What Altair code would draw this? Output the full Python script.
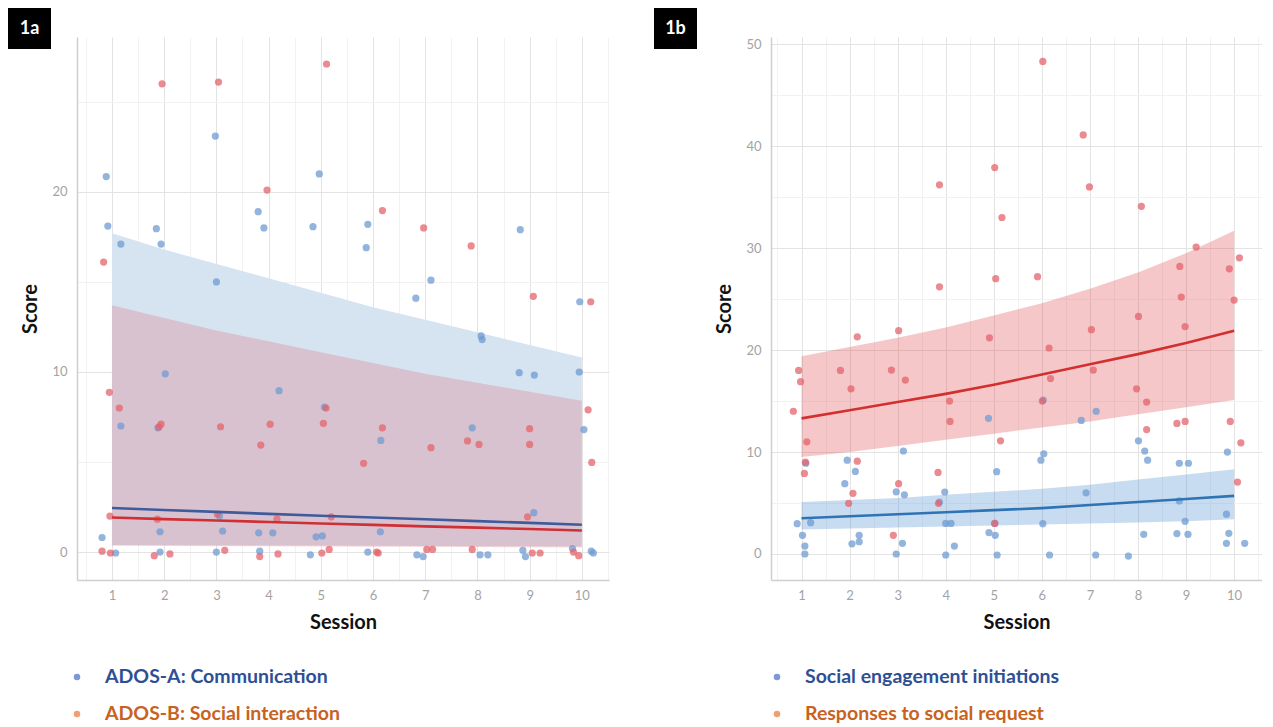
import altair as alt
import pandas as pd

FONT = "Lato"
sessions = list(range(1, 11))

# ---------------- Panel 1a data ----------------
a_comm_x = [2.98, 0.89, 4.97, 3.80, 0.92, 1.85, 3.91, 4.85, 5.90, 8.82, 1.17, 1.94, 5.87, 3.00, 7.11, 6.82, 9.96,
            8.07, 8.09, 2.02, 8.80, 9.09, 9.95, 4.20, 5.07, 1.17, 1.88, 7.90, 10.04, 6.15, 3.06, 9.08,
            0.81, 1.92, 3.12, 3.81, 4.08, 4.91, 5.03, 6.14,
            1.07, 1.92, 3.00, 3.83, 4.80, 5.90, 6.84, 6.96, 8.05, 8.20, 8.87, 8.92, 9.82, 10.18, 10.22]
a_comm_y = [23.1, 20.85, 21.0, 18.9, 18.1, 17.96, 18.0, 18.07, 18.2, 17.9, 17.1, 17.1, 16.9, 15.0, 15.1, 14.1, 13.9,
            12.0, 11.8, 9.9, 9.96, 9.83, 10.0, 8.96, 8.05, 7.0, 6.9, 6.9, 6.8, 6.2, 2.0, 2.19,
            0.81, 1.13, 1.17, 1.07, 1.07, 0.85, 0.9, 1.13,
            -0.05, 0.0, 0.0, 0.05, -0.15, 0.0, -0.15, -0.25, -0.15, -0.15, 0.1, -0.25, 0.2, 0.05, -0.05]

a_soc_x = [1.96, 3.04, 5.11, 3.97, 6.18, 6.97, 7.88, 0.84, 9.07, 10.17,
           0.95, 1.14, 5.10, 10.12, 1.94, 1.90, 3.08, 4.03, 5.05, 6.18, 9.00, 3.85, 7.11, 7.81, 8.03, 9.00, 5.82, 10.19,
           0.96, 1.87, 3.02, 4.16, 5.20, 8.96,
           0.81, 0.97, 1.81, 2.11, 3.16, 3.83, 4.18, 5.02, 5.16, 6.07, 6.10, 7.03, 7.14, 7.90, 9.05, 9.20, 9.84, 9.94]
a_soc_y = [26.0, 26.1, 27.1, 20.1, 18.96, 18.0, 17.0, 16.1, 14.2, 13.9,
           8.87, 8.0, 8.0, 7.9, 7.1, 6.95, 6.96, 7.1, 7.15, 6.9, 6.85, 5.94, 5.8, 6.17, 5.98, 5.98, 4.93, 4.98,
           2.0, 1.83, 2.1, 1.83, 1.96, 1.96,
           0.05, -0.05, -0.2, -0.1, 0.1, -0.25, -0.1, -0.05, 0.15, 0.0, -0.05, 0.15, 0.15, 0.15, -0.05, -0.05, 0.0, -0.2]

a_comm_fit = [2.45, 2.34, 2.23, 2.12, 2.02, 1.92, 1.82, 1.72, 1.62, 1.52]
a_comm_lo = [0.40, 0.39, 0.38, 0.37, 0.36, 0.35, 0.34, 0.33, 0.32, 0.31]
a_comm_hi = [17.7, 16.8, 16.0, 15.2, 14.4, 13.6, 12.9, 12.2, 11.5, 10.8]
a_soc_fit = [1.92, 1.83, 1.75, 1.67, 1.59, 1.51, 1.43, 1.36, 1.28, 1.20]
a_soc_lo = [0.35, 0.34, 0.33, 0.32, 0.31, 0.30, 0.29, 0.28, 0.27, 0.26]
a_soc_hi = [13.7, 13.0, 12.3, 11.7, 11.1, 10.5, 9.9, 9.4, 8.9, 8.4]

# ---------------- Panel 1b data ----------------
b_init_x = [4.89, 6.82, 7.13, 6.03, 8.01, 3.12, 6.04, 8.14, 9.86, 1.95, 5.98, 8.20, 8.86, 9.05, 1.09, 2.12, 5.06,
            1.90, 2.97, 3.14, 3.98, 6.92, 3.87, 8.86, 9.84, 0.91, 1.19, 4.00, 4.11, 6.02, 8.98, 5.02,
            1.02, 2.20, 4.90, 5.03, 8.12, 8.81, 9.04, 9.89, 2.05, 2.20, 3.10, 4.18, 1.07, 9.84, 10.22,
            1.07, 2.97, 4.00, 5.07, 6.16, 7.12, 7.80]
b_init_y = [13.3, 13.1, 14.0, 15.1, 11.1, 10.1, 9.83, 10.1, 10.0, 9.2, 9.2, 9.2, 8.9, 8.9, 8.9, 8.1, 8.07,
            6.9, 6.1, 5.8, 6.08, 6.0, 5.1, 5.2, 3.9, 2.97, 3.07, 3.0, 3.0, 2.97, 3.2, 3.0,
            1.83, 1.83, 2.1, 1.83, 1.93, 2.0, 1.93, 2.03, 1.0, 1.2, 1.05, 0.78, 0.78, 1.05, 1.05,
            0.0, 0.0, -0.1, -0.1, -0.1, -0.1, -0.2]

b_resp_x = [6.02, 6.86, 5.02, 3.87, 6.99, 8.07, 5.17, 9.21, 10.11, 8.87, 9.90, 5.91, 5.04, 3.87, 8.90, 10.00, 8.01,
            2.16, 3.02, 4.91, 7.03, 8.98, 6.15, 0.94, 1.81, 2.87, 7.07, 0.98, 3.16, 6.18, 2.03, 7.97,
            4.08, 6.01, 8.18, 0.83, 4.09, 8.81, 8.98, 9.92, 8.18, 1.11, 5.14, 10.14, 1.08, 2.16,
            1.06, 3.84, 3.02, 10.07, 2.07, 1.98, 3.85, 5.02, 2.91]
b_resp_y = [48.3, 41.1, 37.9, 36.2, 36.0, 34.1, 33.0, 30.1, 29.05, 28.2, 27.97, 27.2, 27.0, 26.2, 25.2, 24.9, 23.3,
            21.3, 21.9, 21.2, 22.0, 22.3, 20.2, 18.0, 18.0, 18.04, 18.04, 16.9, 17.06, 17.2, 16.2, 16.2,
            15.0, 15.0, 14.9, 14.0, 13.0, 12.8, 13.0, 13.0, 12.2, 11.0, 11.1, 10.9, 9.0, 9.1,
            7.9, 8.0, 6.9, 7.05, 5.95, 4.97, 4.97, 3.0, 1.83]

b_init_fit = [3.5, 3.7, 3.9, 4.1, 4.3, 4.5, 4.8, 5.1, 5.4, 5.7]
b_init_lo = [2.4, 2.5, 2.6, 2.7, 2.8, 2.9, 3.0, 3.1, 3.2, 3.4]
b_init_hi = [5.1, 5.3, 5.5, 5.8, 6.1, 6.4, 6.8, 7.3, 7.8, 8.3]
b_resp_fit = [13.3, 14.1, 14.9, 15.7, 16.6, 17.6, 18.6, 19.6, 20.7, 21.9]
b_resp_lo = [9.5, 10.0, 10.6, 11.2, 11.8, 12.4, 13.0, 13.7, 14.4, 15.1]
b_resp_hi = [19.4, 20.3, 21.2, 22.2, 23.4, 24.6, 26.0, 27.6, 29.5, 31.7]

# ---------------- labels / ticks ----------------
a_labels = ["ADOS-A: Communication", "ADOS-B: Social interaction"]
b_labels = ["Social engagement initiations", "Responses to social request"]
x_tick_values = [0.5 + 0.5 * i for i in range(21)]
a_y_ticks = [0, 5, 10, 15, 20, 25]
b_y_ticks = [0, 5, 10, 15, 20, 25, 30, 35, 40, 45, 50]

PT_BLUE = "#6f9bd1"
PT_RED = "#e4636b"
DOT_BLUE = "#7f97d8"
DOT_ORANGE = "#f0a070"
TXT_BLUE = "#2f4f94"
TXT_ORANGE = "#c8621e"


def x_axis():
    return alt.Axis(values=x_tick_values,
                    labelExpr="datum.value % 1 === 0 ? format(datum.value, 'd') : ''",
                    grid=True,
                    gridColor={"condition": {"test": "datum.value % 1 !== 0", "value": "#f2f2f2"},
                               "value": "#e3e3e3"},
                    ticks=False, domainColor="#cfcfcf", domainWidth=1.5,
                    labelColor="#a3a3a3", labelFont=FONT, labelFontSize=13, labelPadding=9,
                    title="Session", titleFont=FONT, titleFontSize=20, titleFontWeight="bold",
                    titleColor="#111111", titlePadding=10)


def y_axis(vals):
    return alt.Axis(values=vals,
                    labelExpr="datum.value % 10 === 0 ? format(datum.value, 'd') : ''",
                    grid=True,
                    gridColor={"condition": {"test": "datum.value % 10 !== 0", "value": "#f2f2f2"},
                               "value": "#e3e3e3"},
                    ticks=False, domainColor="#cfcfcf", domainWidth=1.5,
                    labelColor="#a3a3a3", labelFont=FONT, labelFontSize=13, labelPadding=10,
                    title="Score", titleFont=FONT, titleFontSize=20, titleFontWeight="bold",
                    titleColor="#111111", titlePadding=11)


def panel(tag, labels, x1, y1, x2, y2, fit1, lo1, hi1, fit2, lo2, hi2,
          xdom, ydom, yticks, w, h, tag_left, band1_col, band1_op, band2_col, band2_op,
          line1_col, line2_col):
    xs = alt.Scale(domain=xdom, nice=False, zero=False)
    ys = alt.Scale(domain=ydom, nice=False, zero=False)
    X = alt.X("session:Q", scale=xs, axis=x_axis())
    Y = alt.Y("score:Q", scale=ys, axis=y_axis(yticks))

    pts = pd.DataFrame({"session": x1 + x2, "score": y1 + y2,
                        "series": [labels[0]] * len(x1) + [labels[1]] * len(x2)})
    fits = pd.DataFrame({"session": sessions * 2, "score": fit1 + fit2,
                         "lo": lo1 + lo2, "hi": hi1 + hi2,
                         "series": [labels[0]] * 10 + [labels[1]] * 10})

    band1 = alt.Chart(fits).transform_filter(alt.datum.series == labels[0]).mark_area(
        color=band1_col, opacity=band1_op).encode(x=X, y=alt.Y("lo:Q", scale=ys, axis=y_axis(yticks)), y2="hi:Q")
    band2 = alt.Chart(fits).transform_filter(alt.datum.series == labels[1]).mark_area(
        color=band2_col, opacity=band2_op).encode(x=X, y=alt.Y("lo:Q", scale=ys, axis=y_axis(yticks)), y2="hi:Q")
    points = alt.Chart(pts).mark_circle(size=52, opacity=0.75).encode(
        x=X, y=Y,
        color=alt.Color("series:N", scale=alt.Scale(domain=labels, range=[PT_BLUE, PT_RED]), legend=None))
    lines = alt.Chart(fits).mark_line(strokeWidth=2.6).encode(
        x=X, y=Y, detail="series:N",
        color=alt.Color("series:N", scale=alt.Scale(domain=labels, range=[line1_col, line2_col]), legend=None))

    tag_df = pd.DataFrame({"tag": [tag]})
    tag_box = alt.Chart(tag_df).mark_rect(color="#000000").encode(
        x=alt.value(tag_left), x2=alt.value(tag_left + 43), y=alt.value(-29), y2=alt.value(12))
    tag_txt = alt.Chart(tag_df).mark_text(color="#ffffff", font=FONT, fontSize=18, fontWeight="bold",
                                          align="center", baseline="middle").encode(
        x=alt.value(tag_left + 21.5), y=alt.value(-8.5), text="tag:N")

    return alt.layer(band1, band2, points, lines, tag_box, tag_txt).resolve_scale(
        color="independent").properties(width=w, height=h)


def legend(labels, dot_x, text_x, w):
    df = pd.DataFrame({"label": labels})
    Y = alt.Y("label:N", sort=labels, axis=None, scale=alt.Scale(padding=0.3))
    dots = alt.Chart(df).mark_circle(size=42, opacity=1).encode(
        x=alt.value(dot_x), y=Y,
        color=alt.Color("label:N", scale=alt.Scale(domain=labels, range=[DOT_BLUE, DOT_ORANGE]), legend=None))
    texts = alt.Chart(df).mark_text(align="left", baseline="middle", font=FONT, fontSize=19.5,
                                    fontWeight="bold").encode(
        x=alt.value(text_x), y=Y, text="label:N",
        color=alt.Color("label:N", scale=alt.Scale(domain=labels, range=[TXT_BLUE, TXT_ORANGE]), legend=None))
    return alt.layer(dots, texts).resolve_scale(color="independent").properties(width=w, height=59)


pA = panel("1a", a_labels, a_comm_x, a_comm_y, a_soc_x, a_soc_y,
           a_comm_fit, a_comm_lo, a_comm_hi, a_soc_fit, a_soc_lo, a_soc_hi,
           [0.33, 10.52], [-1.55, 28.6], a_y_ticks, 532, 543, -69,
           "#d6e4f2", 1.0, "#e2747d", 0.3, "#3f5b9c", "#cf2f35")
pB = panel("1b", b_labels, b_init_x, b_init_y, b_resp_x, b_resp_y,
           b_init_fit, b_init_lo, b_init_hi, b_resp_fit, b_resp_lo, b_resp_hi,
           [0.365, 10.58], [-2.55, 50.7], b_y_ticks, 491, 543, -117,
           "#4a8ad0", 0.3, "#e0474c", 0.3, "#2f73b4", "#d32f2f")

lA = legend(a_labels, 0, 28, 300)
lB = legend(b_labels, 6, 34, 300)

chart = alt.hconcat(
    alt.vconcat(pA, lA, spacing=34),
    alt.vconcat(pB, lB, spacing=34),
    spacing=45,
).properties(padding=0).configure_view(stroke=None)

chart.save("out.html", embed_options={"renderer": "svg", "actions": False})
